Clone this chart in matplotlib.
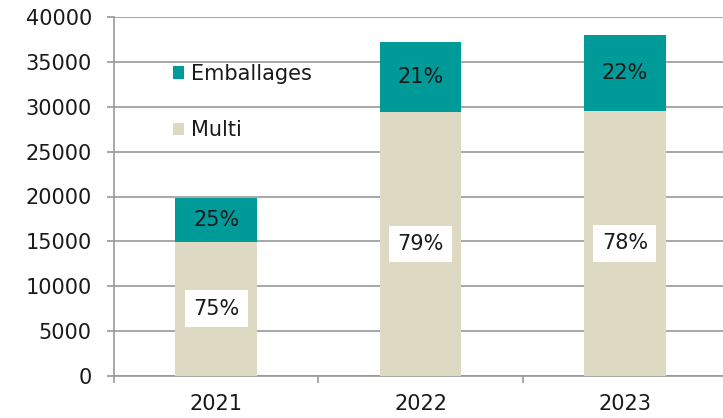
import matplotlib.pyplot as plt
from matplotlib.patches import Patch
import numpy as np

years = ['2021', '2022', '2023']
multi = [14950, 29400, 29580]
emballages = [4920, 7810, 8410]
multi_pct = ['75%', '79%', '78%']
emb_pct = ['25%', '21%', '22%']

teal = '#009b98'
beige = '#ddd9c3'
grid_col = '#989898'
txt_col = '#1a1a1a'

plt.rcParams['font.family'] = 'DejaVu Sans'
fs = 15

fig = plt.figure(figsize=(7.23, 4.18), dpi=100)
ax = fig.add_axes([114 / 723, 1 - 375.7 / 418, 613 / 723, 358.4 / 418])

x = np.arange(len(years))
ax.bar(x, multi, width=0.4, color=beige, zorder=3)
ax.bar(x, emballages, width=0.4, bottom=multi, color=teal, zorder=3)

for i in range(len(years)):
    ax.text(x[i], multi[i] / 2, multi_pct[i], ha='center', va='center',
            fontsize=fs, color=txt_col, zorder=4,
            bbox=dict(facecolor='white', edgecolor='none', pad=6))
    ax.text(x[i], multi[i] + emballages[i] / 2, emb_pct[i], ha='center', va='center',
            fontsize=fs, color=txt_col, zorder=4)

ax.set_xlim(-0.5, 2.5)
ax.set_ylim(0, 40000)
ax.set_yticks(range(0, 40001, 5000))
ax.set_xticks(x)
ax.set_xticklabels(years)
ax.set_xticks([-0.5, 0.5, 1.5, 2.5], minor=True)

ax.yaxis.grid(True, color=grid_col, linewidth=1.2, zorder=0)
ax.set_axisbelow(True)
for s in ['top', 'right']:
    ax.spines[s].set_visible(False)
for s in ['left', 'bottom']:
    ax.spines[s].set_color(grid_col)
    ax.spines[s].set_linewidth(1.2)

ax.tick_params(axis='y', length=5, width=1.2, color=grid_col, labelsize=fs,
               labelcolor=txt_col, pad=11)
ax.tick_params(axis='x', which='major', length=0, labelsize=fs,
               labelcolor=txt_col, pad=13)
ax.tick_params(axis='x', which='minor', length=5, width=1.2, color=grid_col)

handles = [Patch(facecolor=teal, label='Emballages'),
           Patch(facecolor=beige, label='Multi')]
fig.legend(handles=handles, loc='upper left', bbox_to_anchor=(173 / 723, 1 - 64 / 418),
           frameon=False, fontsize=fs, handlelength=0.55, handleheight=0.55,
           handletextpad=0.3, labelspacing=1.75, borderpad=0, borderaxespad=0,
           labelcolor=txt_col)

fig.savefig('out.png', dpi=100)
